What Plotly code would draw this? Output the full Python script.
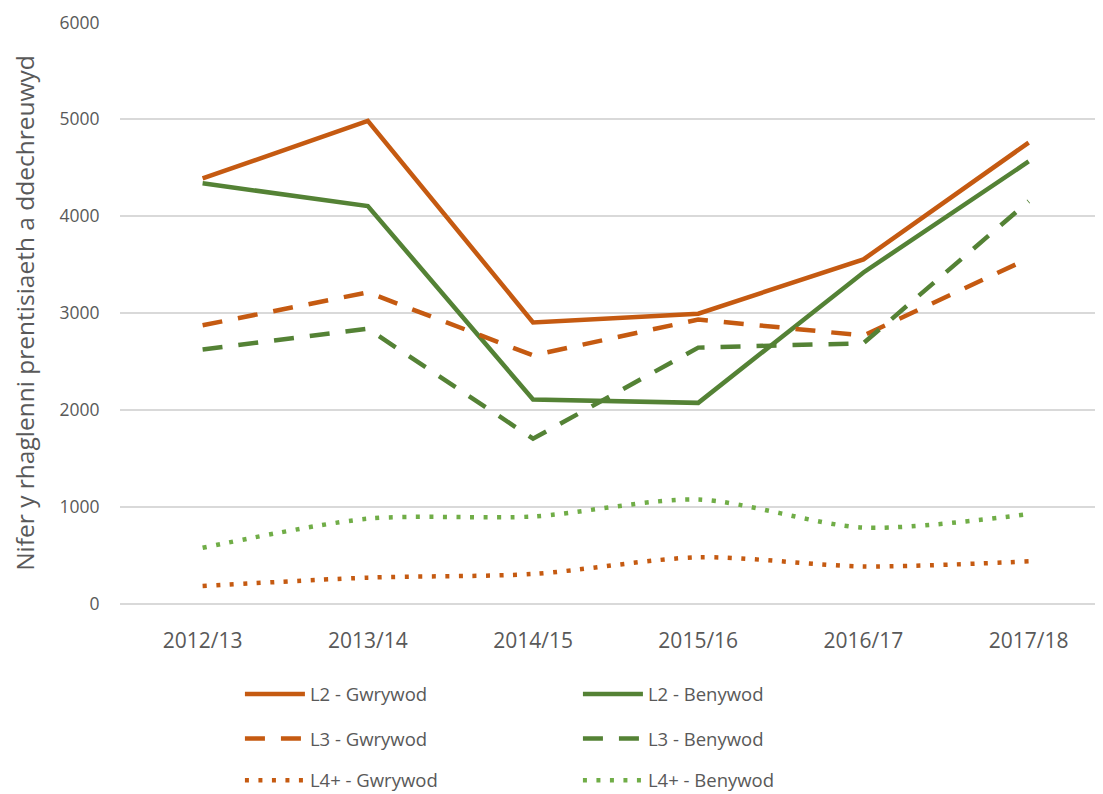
import plotly.graph_objects as go

# ── data ──────────────────────────────────────────
years = ['2012/13', '2013/14', '2014/15', '2015/16', '2016/17', '2017/18']

l2_gwrywod = [4390, 4985, 2905, 2995, 3555, 4760]
l2_benywod = [4340, 4105, 2110, 2075, 3420, 4565]
l3_gwrywod = [2875, 3215, 2565, 2935, 2770, 3565]
l3_benywod = [2625, 2840, 1705, 2645, 2690, 4155]
l4_gwrywod = [185, 272, 310, 482, 388, 440]
l4_benywod = [580, 880, 903, 1078, 788, 928]

ORANGE = '#C55A11'
GREEN = '#548235'
LIGHT_GREEN = '#70AD47'
GREY = '#595959'

# (name, values, colour, dash, shape, legend row)
series = [
    ('L2 - Gwrywod', l2_gwrywod, ORANGE, 'solid', 'linear', 'legend'),
    ('L2 - Benywod', l2_benywod, GREEN, 'solid', 'linear', 'legend'),
    ('L3 - Gwrywod', l3_gwrywod, ORANGE, '20px,16px', 'linear', 'legend2'),
    ('L3 - Benywod', l3_benywod, GREEN, '20px,16px', 'linear', 'legend2'),
    ('L4+ - Gwrywod', l4_gwrywod, ORANGE, '4px,9.5px', 'spline', 'legend3'),
    ('L4+ - Benywod', l4_benywod, LIGHT_GREEN, '4px,9.5px', 'spline', 'legend3'),
]

fig = go.Figure()
for name, vals, color, dash, shape, leg in series:
    fig.add_trace(go.Scatter(
        x=years, y=vals, name=name, mode='lines', legend=leg,
        line=dict(color=color, width=4.5, dash=dash, shape=shape, smoothing=0.8),
    ))

# one horizontal legend per row, two entries each (placed in container coords)
def legend_row(y):
    return dict(
        orientation='h', x=0.122, xanchor='left', y=y, yanchor='middle',
        yref='container',
        entrywidth=263, font=dict(size=18.5, color=GREY),
        itemwidth=60, bgcolor='rgba(0,0,0,0)',
    )

fig.update_layout(
    width=1095, height=786,
    margin=dict(l=112, r=0, t=14, b=190, autoexpand=False),
    paper_bgcolor='white', plot_bgcolor='white',
    font=dict(family='Open Sans', color=GREY, size=16),
    legend=legend_row(0.1265),
    legend2=legend_row(0.070),
    legend3=legend_row(0.017),
    showlegend=True,
)
fig.update_xaxes(
    range=[-0.5, 5.45],
    showgrid=False, showline=False, zeroline=False,
    ticks='outside', ticklen=18, tickcolor='rgba(0,0,0,0)',
    tickfont=dict(size=21, color=GREY),
)
fig.update_yaxes(
    range=[0, 6004], tickvals=[0, 1000, 2000, 3000, 4000, 5000, 6000],
    showgrid=True, gridcolor='#D9D9D9', gridwidth=1.5,
    zeroline=True, zerolinecolor='#D9D9D9', zerolinewidth=1.5, showline=False,
    ticks='outside', ticklen=16, tickcolor='rgba(0,0,0,0)',
    tickfont=dict(size=17.5, color=GREY),
    title=dict(text='Nifer y rhaglenni prentisiaeth a ddechreuwyd',
               font=dict(size=24.5, color=GREY), standoff=33),
)

fig.write_html('out.html')
